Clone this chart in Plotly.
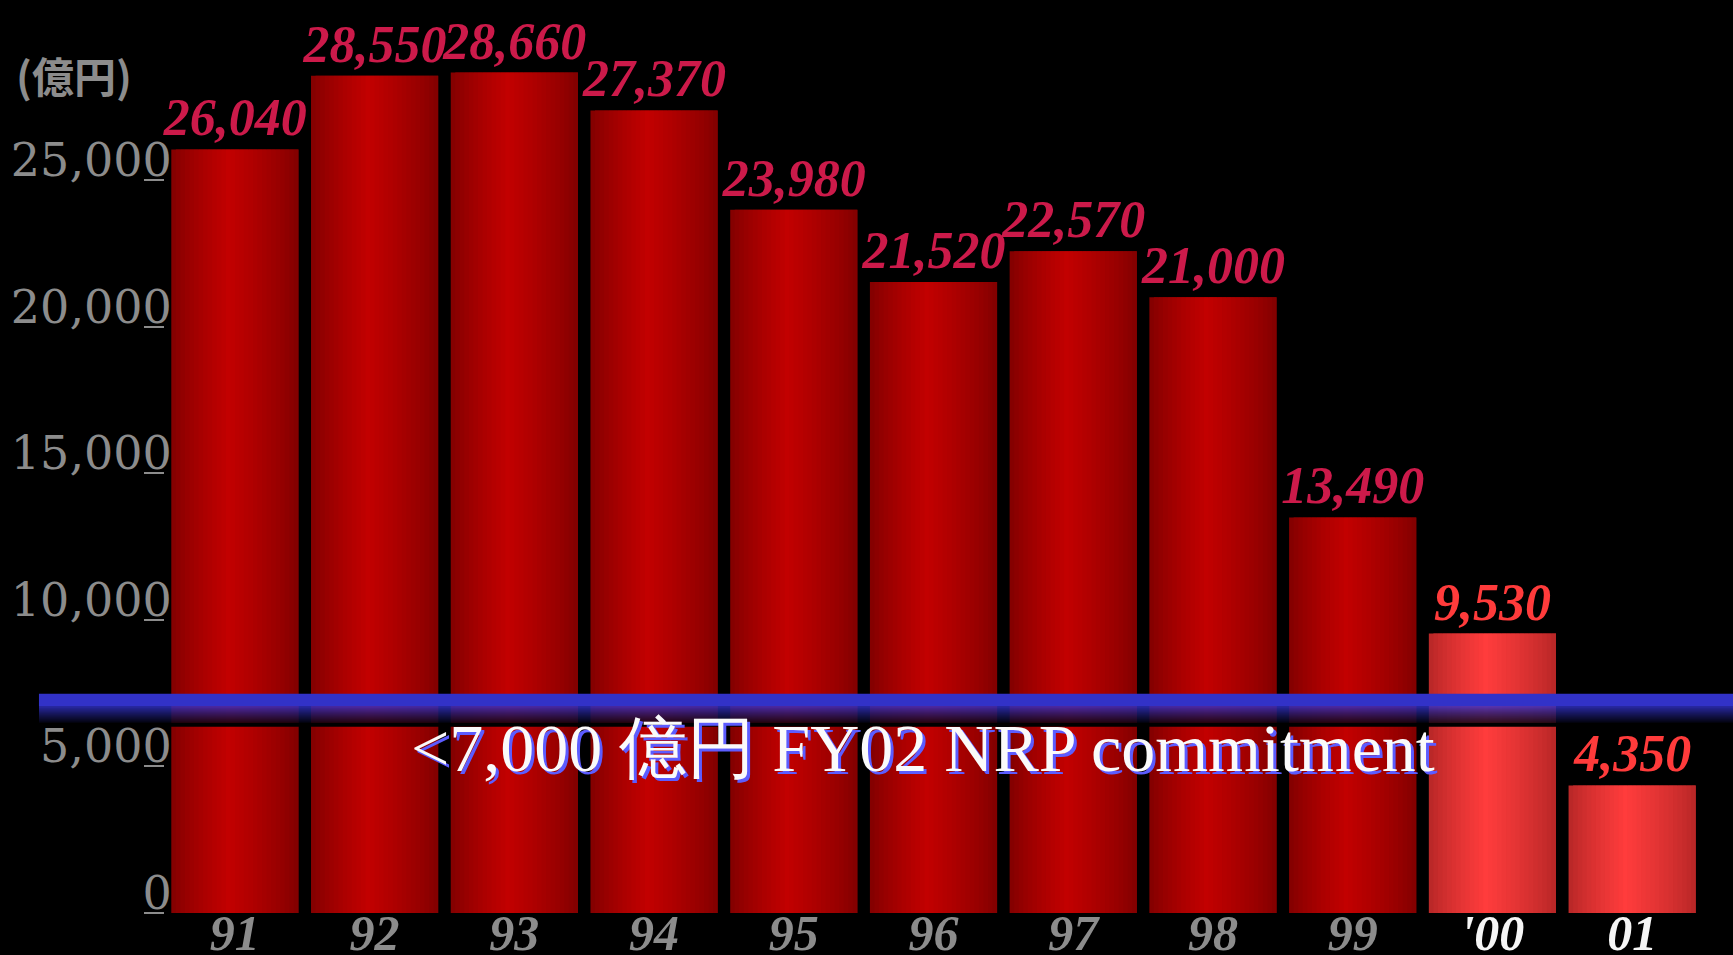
import plotly.graph_objects as go

# ---- data ----
years = ["91", "92", "93", "94", "95", "96", "97", "98", "99", "'00", "01"]
values = [26040, 28550, 28660, 27370, 23980, 21520, 22570, 21000, 13490, 9530, 4350]
highlight = [False] * 9 + [True, True]
target = 7000
y_ticks = [0, 5000, 10000, 15000, 20000, 25000]
unit_label = "(億円)"
target_text = "<7,000 億円 FY02 NRP commitment"

# ---- style ----
BAR_W = 0.91
N_STRIPES = 28
PEAK = 0.45
dark_edge, dark_peak = (128, 0, 0), (194, 0, 0)
lite_edge, lite_peak = (180, 38, 38), (255, 60, 60)
label_dark, label_lite = "#cc1a4a", "#ff3b3b"
grey = "#8c8c8c"


def mix(a, b, f):
    return "rgb(%d,%d,%d)" % tuple(round(a[k] + (b[k] - a[k]) * f) for k in range(3))


fig = go.Figure()

# gradient bars drawn as overlapping vertical stripes of each bar
step = BAR_W / N_STRIPES
for i in range(N_STRIPES):
    t = (i + 0.5) / N_STRIPES
    f = 1 - (abs(t - PEAK) / (PEAK if t < PEAK else 1 - PEAK))
    f = max(0.0, f) ** 0.8
    cols = [mix(lite_edge, lite_peak, f) if h else mix(dark_edge, dark_peak, f) for h in highlight]
    off = -BAR_W / 2 + i * step
    w = min(step * 2.0, BAR_W / 2 - off)
    fig.add_trace(go.Bar(
        x=years, y=values,
        width=w, offset=off,
        marker=dict(color=cols, line=dict(width=0)),
        hoverinfo="skip", showlegend=False,
    ))

# value labels
fig.add_trace(go.Bar(
    x=years, y=values,
    width=BAR_W, offset=-BAR_W / 2,
    marker=dict(color="rgba(0,0,0,0)", line=dict(width=0)),
    text=[f"{v:,}" for v in values],
    textposition="outside",
    texttemplate="%{text}",
    constraintext="none",
    cliponaxis=False,
    textfont=dict(family="Liberation Serif", size=52, weight="bold", style="italic",
                  color=[label_lite if h else label_dark for h in highlight]),
    showlegend=False, hoverinfo="skip",
))

# target band (vertical gradient built from thin strips), anchored at target value
shapes = []
band_top, solid_to, grad_to, gap_to = 14, 1, -15, -19
shapes.append(dict(type="rect", xref="paper", yref="y", ysizemode="pixel", yanchor=target,
                   x0=-0.082, x1=1.05, y0=solid_to, y1=band_top,
                   fillcolor="#3232c8", line=dict(width=0), layer="above"))
steps = solid_to - grad_to
for k in range(steps):
    f = (k + 0.5) / steps
    c = mix((50, 50, 200), (5, 5, 20), f ** 0.9)
    shapes.append(dict(type="rect", xref="paper", yref="y", ysizemode="pixel", yanchor=target,
                       x0=-0.082, x1=1.05, y0=solid_to - k - 1.05, y1=solid_to - k,
                       fillcolor=c, line=dict(width=0), layer="above"))
shapes.append(dict(type="rect", xref="paper", yref="y", ysizemode="pixel", yanchor=target,
                   x0=-0.082, x1=1.05, y0=gap_to, y1=grad_to,
                   fillcolor="#000000", line=dict(width=0), layer="above"))

ticktext_x = [f'<span style="color:#f5f5f5">{y}</span>' if h else y for y, h in zip(years, highlight)]

fig.update_layout(
    width=1733, height=955,
    margin=dict(l=165, r=31, t=4, b=42, autoexpand=False),
    paper_bgcolor="black", plot_bgcolor="black",
    barmode="overlay",
    shapes=shapes,
    xaxis=dict(
        type="category", range=[-0.5, len(years) - 0.5],
        tickmode="array", tickvals=years, ticktext=ticktext_x,
        tickfont=dict(family="Liberation Serif", size=50, weight="bold", style="italic", color=grey),
        showgrid=False, zeroline=False, showline=False, ticks="",
        ticklabelstandoff=-14, automargin=False,
    ),
    yaxis=dict(
        range=[0, 31000],
        tickmode="array", tickvals=y_ticks, ticktext=[f"{v:,}" for v in y_ticks],
        tickfont=dict(family="DejaVu Serif", size=46, color=grey),
        ticks="outside", ticklen=20, tickwidth=2, tickcolor=grey,
        ticklabelshift=-20, ticklabelstandoff=-37,
        showgrid=False, zeroline=False, showline=False, automargin=False,
    ),
    annotations=[
        dict(text=unit_label, xref="paper", yref="paper", x=-0.098, y=0.922,
             xanchor="left", yanchor="middle", showarrow=False,
             font=dict(family="Noto Sans CJK JP", size=42, weight="bold", color=grey)),
        dict(text=target_text, xref="paper", yref="paper", x=0.1588, y=0.1815,
             xanchor="left", yanchor="middle", showarrow=False,
             font=dict(family="Liberation Serif", size=68, color="#fafafa",
                       shadow="3px 3px 0px #5c5cff")),
    ],
)

fig.write_html(
    "out.html",
    config={"displayModeBar": False},
    post_script="document.body.style.margin='0';document.body.style.background='black';"
                "document.documentElement.style.background='black';",
)
